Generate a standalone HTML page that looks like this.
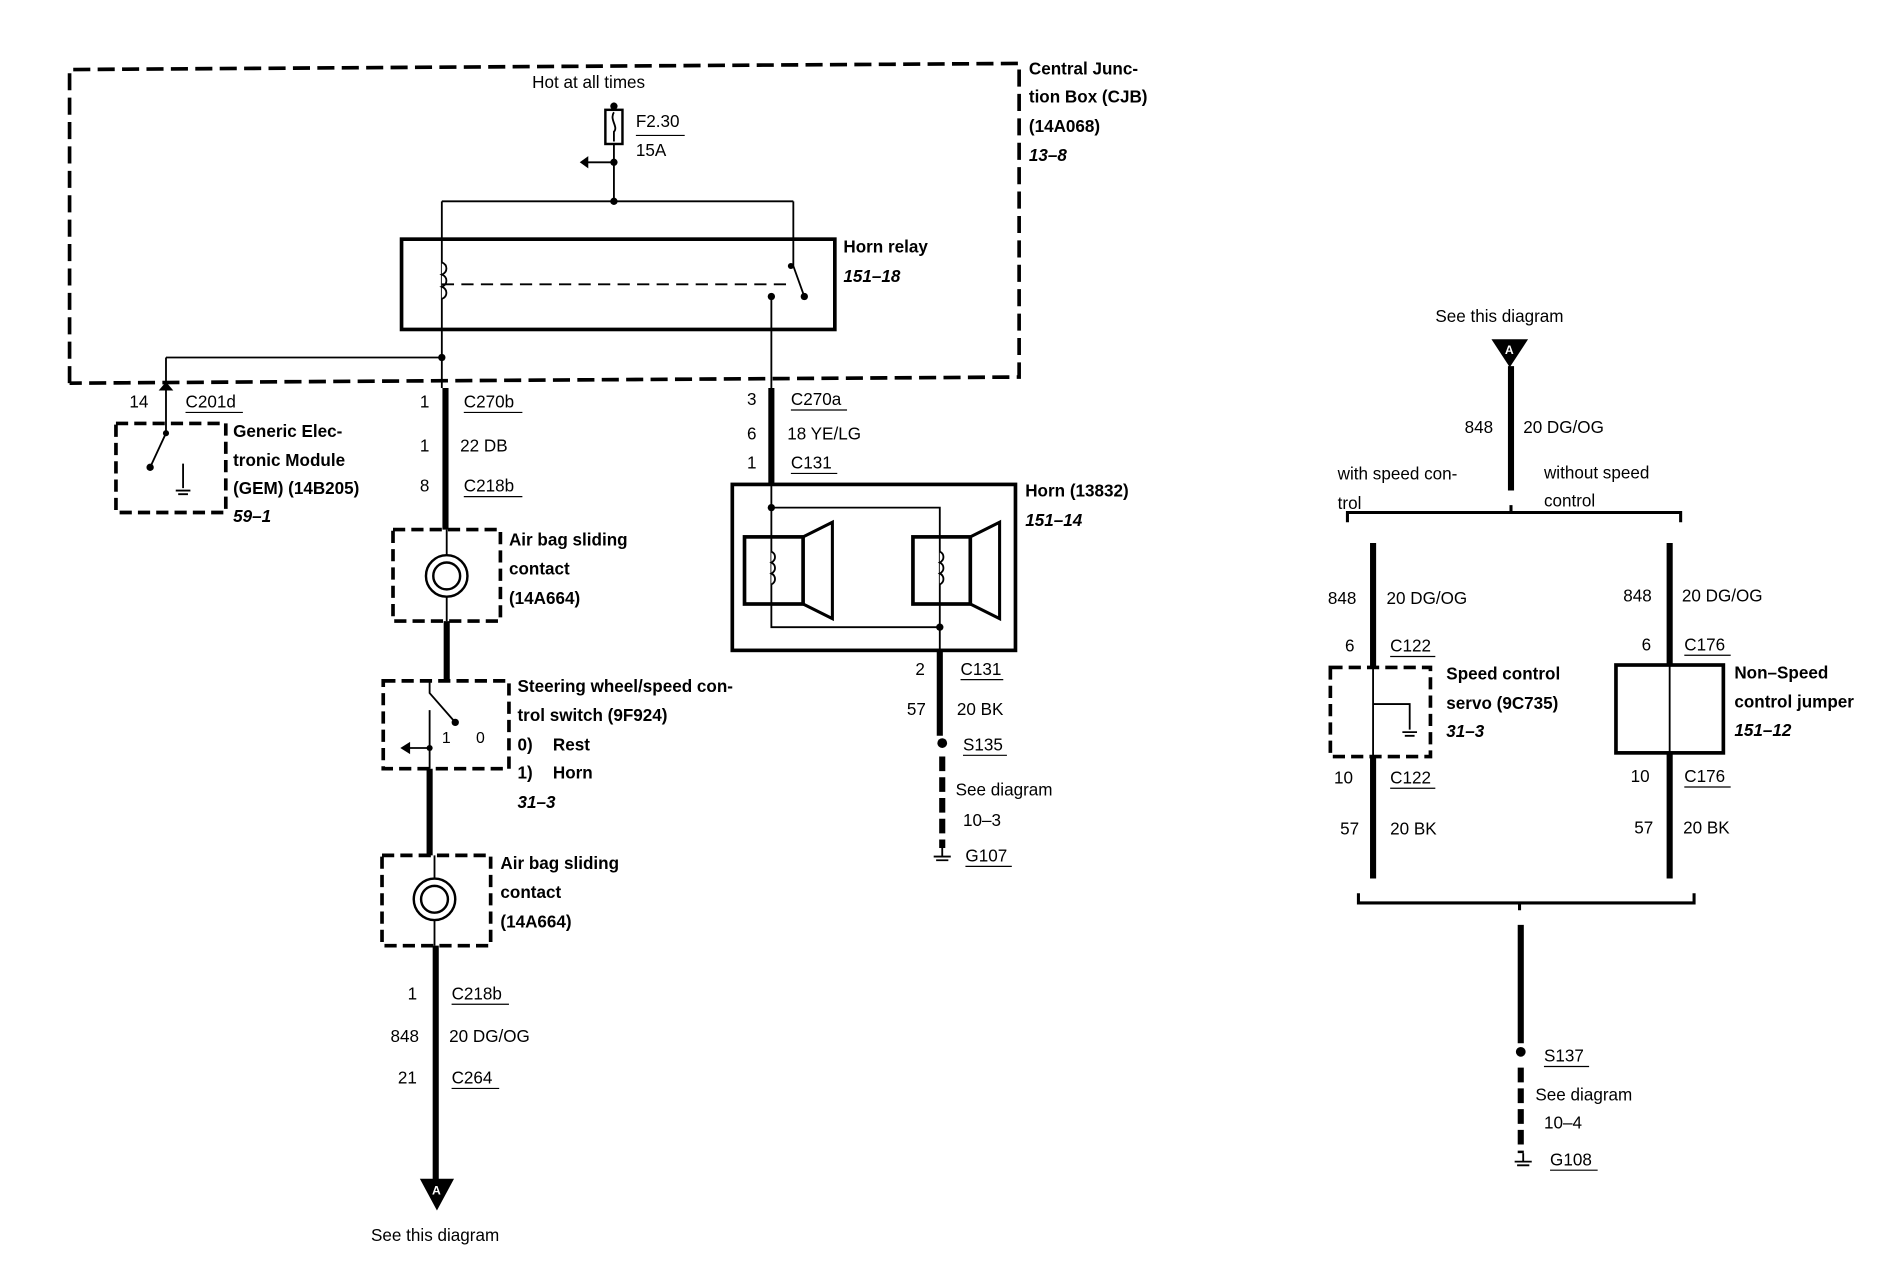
<!DOCTYPE html>
<html><head><meta charset="utf-8"><style>
html,body{margin:0;padding:0;background:#fff;width:1904px;height:1280px;overflow:hidden}
svg{display:block}
text{font-family:"Liberation Sans",sans-serif;font-size:14px;fill:#000}
.b{font-weight:bold}
.i{font-weight:bold;font-style:italic}
</style></head><body>
<svg width="1904" height="1280" viewBox="0 0 1560 1049" preserveAspectRatio="none" xmlns="http://www.w3.org/2000/svg">
<g fill="none" stroke="#000">
<path d="M57 314 L57 57 L835 52 L835 309 L57 314" stroke-width="3" stroke-dasharray="14,6"/>
<rect x="496" y="90" width="14" height="28" stroke-width="2"/>
<path d="M503 84 L503 90 M503 92 C499 98,507 104,503 108 L503 116" stroke-width="1.5"/>
<path d="M503 118 L503 165 M503 133 L480 133" stroke-width="1.5"/>
<path d="M362 165 L650 165 M362 165 L362 318 M650 165 L650 218 L659 243" stroke-width="1.5"/>
<rect x="329" y="196" width="355" height="74" stroke-width="3"/>
<path d="M362 215 c5 2,5 8,0 10 c5 2,5 8,0 10 c5 2,5 8,0 10" stroke-width="1.5" fill="#fff"/>
<path d="M362 233 L650 233" stroke-width="1.5" stroke-dasharray="10,6"/>
<path d="M632 243 L632 318" stroke-width="1.5"/>
<path d="M136 293 L362 293 M136 293 L136 318" stroke-width="1.5"/>
<rect x="95" y="347" width="90" height="73" stroke-width="3" stroke-dasharray="10,5"/>
<path d="M136 320 L136 355 L123 383 M150 380 L150 400" stroke-width="1.5"/>
<path d="M144 402 L156 402 M146 405 L154 405" stroke-width="1.5"/>
<path d="M365 318 L365 434 M366 509 L366 558 M352 630 L352 701 M357 775 L357 968" stroke-width="5"/>
<rect x="322" y="434" width="88" height="75" stroke-width="3" stroke-dasharray="10,5"/>
<circle cx="366" cy="472" r="17" stroke-width="2"/>
<circle cx="366" cy="472" r="11" stroke-width="2"/>
<path d="M366 434 L366 455 M366 489 L366 509" stroke-width="1.5"/>
<rect x="314" y="558" width="103" height="72" stroke-width="3" stroke-dasharray="10,5"/>
<path d="M352 558 L352 568 L373 592 M352 582 L352 630 M330 613 L352 613" stroke-width="1.5"/>
<rect x="313" y="701" width="89" height="74" stroke-width="3" stroke-dasharray="10,5"/>
<circle cx="356" cy="737" r="17" stroke-width="2"/>
<circle cx="356" cy="737" r="11" stroke-width="2"/>
<path d="M356 701 L356 720 M356 754 L356 775" stroke-width="1.5"/>
<path d="M632 318 L632 397" stroke-width="5"/>
<rect x="600" y="397" width="232" height="136" stroke-width="3"/>
<path d="M632 397 L632 514 L770 514 M632 416 L770 416 L770 533" stroke-width="1.5"/>
<rect x="610" y="440" width="48" height="55" stroke-width="3"/>
<path d="M658 440 L682 428 L682 507 L658 495" stroke-width="2.5"/>
<rect x="748" y="440" width="47" height="55" stroke-width="3"/>
<path d="M795 440 L819 428 L819 507 L795 495" stroke-width="2.5"/>
<path d="M632 452 c4 2,4 7,0 9 c4 2,4 7,0 9 c4 2,4 7,0 9" stroke-width="1.5" fill="#fff"/>
<path d="M770 452 c4 2,4 7,0 9 c4 2,4 7,0 9 c4 2,4 7,0 9" stroke-width="1.5" fill="#fff"/>
<path d="M770 533 L770 603" stroke-width="5"/>
<path d="M772 620 L772 695" stroke-width="5" stroke-dasharray="12,5"/>
<path d="M765 702 L779 702 M767 705 L777 705 M772 695 L772 702" stroke-width="1.5"/>
<path d="M1238 300 L1238 402 M1125 445 L1125 547 M1368 445 L1368 545 M1125 620 L1125 720 M1368 617 L1368 720 M1246 758 L1246 855" stroke-width="5"/>
<path d="M1104 428 L1104 420 L1377 420 L1377 428 M1238 420 L1238 414" stroke-width="2.5"/>
<path d="M1113 732 L1113 740 L1388 740 L1388 732 M1245 740 L1245 746" stroke-width="2.5"/>
<rect x="1090" y="547" width="82" height="73" stroke-width="3" stroke-dasharray="10,5"/>
<path d="M1125 547 L1125 620 M1125 577 L1155 577 L1155 598" stroke-width="1.5"/>
<path d="M1149 600 L1161 600 M1151 603 L1159 603" stroke-width="1.5"/>
<rect x="1324" y="545" width="88" height="72" stroke-width="3"/>
<path d="M1368 545 L1368 617" stroke-width="1.5"/>
<path d="M1246 875 L1246 945" stroke-width="5" stroke-dasharray="12,5"/>
<path d="M1241 952 L1255 952 M1243 955 L1253 955 M1248 945 L1248 952" stroke-width="1.5"/>
<g stroke-width="1">
<path d="M521 111 L561 111 M152 338 L199 338 M380 338 L428 338 M380 407 L428 407 M648 336 L694 336 M648 388 L686 388 M787 557 L822 557 M789 619 L825 619 M791 710 L829 710 M370 823 L417 823 M370 892 L409 892 M1139 538 L1176 538 M1139 646 L1176 646 M1380 537 L1418 537 M1380 645 L1418 645 M1265 874 L1302 874 M1270 959 L1309 959"/>
</g>
</g>
<g fill="#000">
<circle cx="503" cy="87" r="3"/><circle cx="503" cy="133" r="3"/><circle cx="503" cy="165" r="3"/>
<circle cx="362" cy="293" r="3"/><circle cx="632" cy="243" r="3"/><circle cx="659" cy="243" r="3"/><circle cx="648" cy="218" r="2.5"/>
<circle cx="123" cy="383" r="3"/><circle cx="136" cy="355" r="2.5"/>
<circle cx="373" cy="592" r="3"/><circle cx="352" cy="613" r="2.5"/>
<circle cx="632" cy="416" r="3"/><circle cx="770" cy="514" r="3"/>
<circle cx="772" cy="609" r="4"/><circle cx="1246" cy="862" r="4"/>
<path d="M475 133 L482 128 L482 138 Z"/>
<path d="M328 613 L336 608 L336 618 Z"/>
<path d="M344 966 L372 966 L358 992 Z"/>
<path d="M1222 278 L1252 278 L1237 301 Z"/>
<path d="M130 320 L142 320 L136 313 Z"/>
</g>
<text x="354" y="979" style="fill:#fff;font-size:10px;font-weight:bold">A</text>
<text x="1233" y="290" style="fill:#fff;font-size:10px;font-weight:bold">A</text>
<text x="436" y="72">Hot at all times</text>
<text x="521" y="104">F2.30</text><text x="521" y="128">15A</text>
<text class="b" x="843" y="61">Central Junc-</text>
<text class="b" x="843" y="84">tion Box (CJB)</text>
<text class="b" x="843" y="108">(14A068)</text>
<text class="i" x="843" y="132">13–8</text>
<text class="b" x="691" y="207">Horn relay</text>
<text class="i" x="691" y="231">151–18</text>
<text x="106" y="334">14</text><text x="152" y="334">C201d</text>
<text class="b" x="191" y="358">Generic Elec-</text>
<text class="b" x="191" y="382">tronic Module</text>
<text class="b" x="191" y="405">(GEM) (14B205)</text>
<text class="i" x="191" y="428">59–1</text>
<text x="344" y="334">1</text><text x="380" y="334">C270b</text>
<text x="344" y="370">1</text><text x="377" y="370">22 DB</text>
<text x="344" y="403">8</text><text x="380" y="403">C218b</text>
<text class="b" x="417" y="447">Air bag sliding</text>
<text class="b" x="417" y="471">contact</text>
<text class="b" x="417" y="495">(14A664)</text>
<text class="b" x="424" y="567">Steering wheel/speed con-</text>
<text class="b" x="424" y="591">trol switch (9F924)</text>
<text class="b" x="424" y="615">0)</text><text class="b" x="453" y="615">Rest</text>
<text class="b" x="424" y="638">1)</text><text class="b" x="453" y="638">Horn</text>
<text class="i" x="424" y="662">31–3</text>
<text x="362" y="609" style="font-size:13px">1</text><text x="390" y="609" style="font-size:13px">0</text>
<text class="b" x="410" y="712">Air bag sliding</text>
<text class="b" x="410" y="736">contact</text>
<text class="b" x="410" y="760">(14A664)</text>
<text x="334" y="819">1</text><text x="370" y="819">C218b</text>
<text x="320" y="854">848</text><text x="368" y="854">20 DG/OG</text>
<text x="326" y="888">21</text><text x="370" y="888">C264</text>
<text x="304" y="1017">See this diagram</text>
<text x="612" y="332">3</text><text x="648" y="332">C270a</text>
<text x="612" y="360">6</text><text x="645" y="360">18 YE/LG</text>
<text x="612" y="384">1</text><text x="648" y="384">C131</text>
<text class="b" x="840" y="407">Horn (13832)</text>
<text class="i" x="840" y="431">151–14</text>
<text x="750" y="553">2</text><text x="787" y="553">C131</text>
<text x="743" y="586">57</text><text x="784" y="586">20 BK</text>
<text x="789" y="615">S135</text>
<text x="783" y="652">See diagram</text>
<text x="789" y="677">10–3</text>
<text x="791" y="706">G107</text>
<text x="1176" y="264">See this diagram</text>
<text x="1200" y="355">848</text><text x="1248" y="355">20 DG/OG</text>
<text x="1096" y="393">with speed con-</text><text x="1096" y="417">trol</text>
<text x="1265" y="392">without speed</text><text x="1265" y="415">control</text>
<text x="1088" y="495">848</text><text x="1136" y="495">20 DG/OG</text>
<text x="1102" y="534">6</text><text x="1139" y="534">C122</text>
<text class="b" x="1185" y="557">Speed control</text>
<text class="b" x="1185" y="581">servo (9C735)</text>
<text class="i" x="1185" y="604">31–3</text>
<text x="1093" y="642">10</text><text x="1139" y="642">C122</text>
<text x="1098" y="684">57</text><text x="1139" y="684">20 BK</text>
<text x="1330" y="493">848</text><text x="1378" y="493">20 DG/OG</text>
<text x="1345" y="533">6</text><text x="1380" y="533">C176</text>
<text class="b" x="1421" y="556">Non–Speed</text>
<text class="b" x="1421" y="580">control jumper</text>
<text class="i" x="1421" y="603">151–12</text>
<text x="1336" y="641">10</text><text x="1380" y="641">C176</text>
<text x="1339" y="683">57</text><text x="1379" y="683">20 BK</text>
<text x="1265" y="870">S137</text>
<text x="1258" y="902">See diagram</text>
<text x="1265" y="925">10–4</text>
<text x="1270" y="955">G108</text>
</svg>
</body></html>
